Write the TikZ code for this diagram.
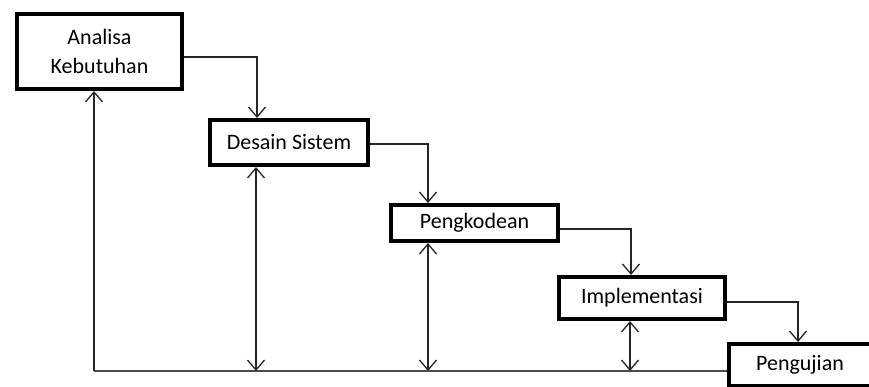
\documentclass[tikz,border=0pt]{standalone}
\usepackage{fontspec}
\setmainfont{Carlito}
\usetikzlibrary{arrows.meta,calc}
\begin{document}
\begin{tikzpicture}[x=1pt,y=-1pt,
  stagebox/.style={draw=black,line width=4pt,fill=white,inner sep=0pt,align=center,
    font=\fontsize{22}{29}\selectfont},
  conn/.style={draw=black!85,line width=1.3pt,-{Straight Barb[length=10pt,width=17pt,line width=1.3pt]}},
  dconn/.style={draw=black!85,line width=1.3pt,{Straight Barb[length=10pt,width=17pt,line width=1.3pt]}-{Straight Barb[length=10pt,width=17pt,line width=1.3pt]}},
  base/.style={draw=black!70,line width=1.3pt}]
\clip (0,0) rectangle (869,387);
\fill[white] (0,0) rectangle (869,387);
\node[stagebox,minimum width=165pt,minimum height=75pt] (ak) at (99.5,51.5) {Analisa\\Kebutuhan};
\node[stagebox,minimum width=158pt,minimum height=45pt] (ds) at (289,142.5) {Desain Sistem};
\node[stagebox,minimum width=167pt,minimum height=36pt] (pk) at (474.5,223) {Pengkodean};
\node[stagebox,minimum width=166pt,minimum height=42pt] (im) at (642,298) {Implementasi};
\node[stagebox,minimum width=142pt,minimum height=42pt] (pu) at (800,365) {Pengujian};
\coordinate (bl) at (94,371);
% forward flow
\draw[conn] ([yshift=-5.5pt]ak.east) -| ([xshift=-32pt]ds.north);
\draw[conn] ([yshift=-1.5pt]ds.east) -| ([xshift=-46.5pt]pk.north);
\draw[conn] ([yshift=-6pt]pk.east) -| ([xshift=-11pt]im.north);
\draw[conn] ([yshift=-4pt]im.east) -| ([xshift=-2pt]pu.north);
% feedback
\draw[base] (pu.west |- bl) -- (bl);
\draw[conn] (bl) -- ([xshift=-5.5pt]ak.south);
\draw[dconn] ([xshift=-33pt]ds.south) -- ([xshift=-33pt]ds.south |- bl);
\draw[dconn] ([xshift=-46.5pt]pk.south) -- ([xshift=-46.5pt]pk.south |- bl);
\draw[dconn] ([xshift=-12pt]im.south) -- ([xshift=-12pt]im.south |- bl);
\end{tikzpicture}
\end{document}
